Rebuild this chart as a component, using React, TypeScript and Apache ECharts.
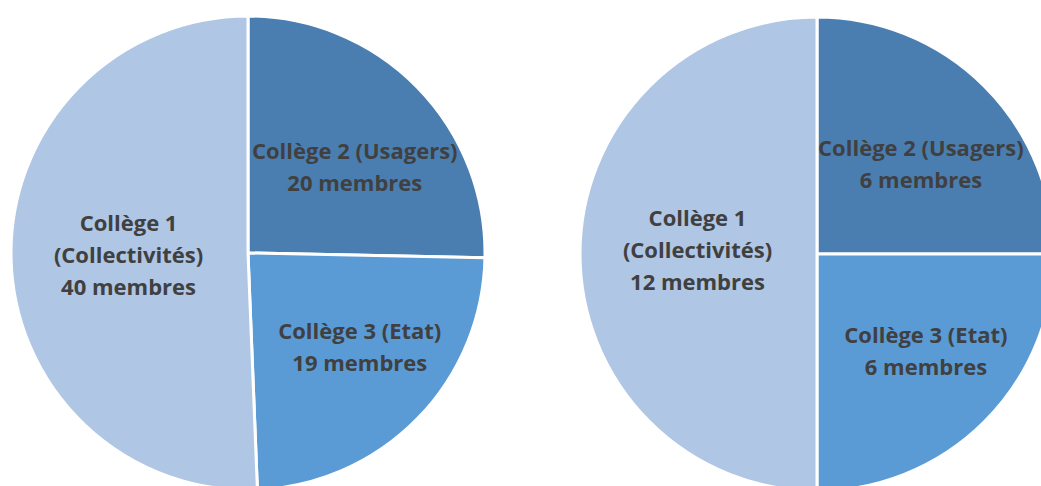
import React, { useEffect, useRef } from "react";
import * as echarts from "echarts";

const categories = ["Collège 2 (Usagers)", "Collège 3 (Etat)", "Collège 1\n(Collectivités)"];
const leftValues = [20, 19, 40];
const rightValues = [6, 6, 12];
const colors = ["#4A7EB0", "#5B9BD5", "#AFC6E5"];
const leftOffsets = [[20, -2], [25, 8], [2, -1]];
const rightOffsets = [[18, -5], [23, 10], [2, -5]];

function buildSeries(values: number[], center: number[], offsets: number[][]) {
  return {
    type: "pie",
    center,
    radius: 237,
    startAngle: 90,
    clockwise: true,
    avoidLabelOverlap: false,
    emphasis: { disabled: true },
    itemStyle: { borderColor: "#ffffff", borderWidth: 3 },
    label: {
      show: true,
      position: "inside",
      formatter: (p: any) => `${p.name}\n${p.value} membres`,
      color: "#404040",
      fontFamily: "Open Sans",
      fontWeight: "bold",
      fontSize: 22,
      lineHeight: 32,
      align: "center",
    },
    labelLine: { show: false },
    data: values.map((v, i) => ({
      name: categories[i],
      value: v,
      itemStyle: { color: colors[i] },
      label: { offset: offsets[i] },
    })),
  };
}

export default function App() {
  const ref = useRef<HTMLDivElement>(null);
  useEffect(() => {
    document.body.style.margin = "0";
    const chart = echarts.init(ref.current!, undefined, { renderer: "svg" });
    chart.setOption({
      animation: false,
      backgroundColor: "#ffffff",
      series: [
        buildSeries(leftValues, [248, 253], leftOffsets),
        buildSeries(rightValues, [817, 254], rightOffsets),
      ],
    });
    return () => chart.dispose();
  }, []);
  return <div ref={ref} style={{ position: "absolute", left: 0, top: 0, width: 1041, height: 486 }} />;
}
